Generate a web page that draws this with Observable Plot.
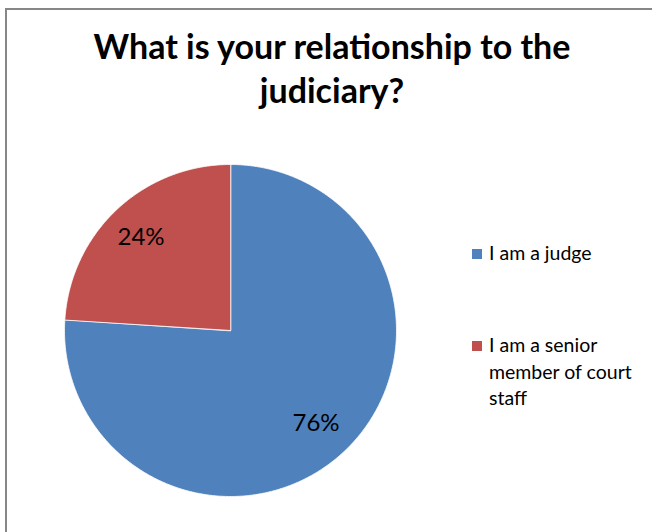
<!DOCTYPE html>
<html><head><meta charset="utf-8">
<script src="https://cdn.jsdelivr.net/npm/d3@7"></script>
<script src="https://cdn.jsdelivr.net/npm/@observablehq/plot@0.6"></script>
<style>
body{margin:0;background:#fff;font-family:Lato,"Open Sans",sans-serif}
#wrap{position:relative;width:652px;height:532px;overflow:hidden;background:#fff}
#frame{position:absolute;left:5px;top:8px;width:700px;height:600px;border:2px solid #878787;box-sizing:border-box}
#chart{position:absolute;left:0;top:0}
#title{position:absolute;left:0;width:664px;top:24px;text-align:center;font-weight:bold;font-size:34px;line-height:44px;color:#000;white-space:nowrap}
.leg{position:absolute;left:472px;font-size:19.5px;line-height:26.5px;color:#000}
.leg .sw{position:absolute;left:0;top:0;width:10px;height:10px}
.leg .tx{position:absolute;left:17px;top:0;white-space:nowrap}
</style>
</head><body>
<div id="wrap">
  <div id="frame"></div>
  <div id="chart"></div>
  <div id="title"></div>
  <div id="legend"></div>
</div>
<script>
const titleLines = ["What is your relationship to the", "judiciary?"];
const categories = ["I am a judge", "I am a senior member of court staff"];
const values = [76, 24];
const labels = ["76%", "24%"];
const colors = ["#4F81BD", "#C0504D"];
const legendLines = [["I am a judge"], ["I am a senior", "member of court", "staff"]];

// title
const t = document.getElementById("title");
titleLines.forEach(l => { const d = document.createElement("div"); d.textContent = l; t.appendChild(d); });

// pie geometry via d3.pie (angles from the data values)
const arcs = d3.pie().sort(null).value(d => d.value)(categories.map((c, i) => ({category: c, value: values[i], label: labels[i]})));
const outline = [];
for (const a of arcs) {
  outline.push({category: a.data.category, x: 0, y: 0});
  const steps = Math.max(2, Math.ceil((a.endAngle - a.startAngle) / (Math.PI / 180) * 2));
  for (let k = 0; k <= steps; k++) {
    const ang = a.startAngle + (a.endAngle - a.startAngle) * k / steps;
    outline.push({category: a.data.category, x: Math.sin(ang), y: Math.cos(ang)});
  }
}
const labelPts = arcs.map(a => {
  const m = (a.startAngle + a.endAngle) / 2;
  return {label: a.data.label, x: Math.sin(m) * 0.77, y: Math.cos(m) * 0.77};
});

const plot = Plot.plot({
  width: 652, height: 532,
  marginLeft: 64, marginRight: 256, marginTop: 164, marginBottom: 36,
  x: {domain: [-1, 1], axis: null},
  y: {domain: [-1, 1], axis: null},
  color: {domain: categories, range: colors},
  style: {background: "transparent", fontFamily: "Lato, sans-serif"},
  marks: [
    Plot.line(outline, {x: "x", y: "y", z: "category", fill: "category", stroke: "white", strokeWidth: 0.8, curve: "linear-closed"}),
    Plot.text(labelPts, {x: "x", y: "y", text: "label", fontSize: 24, fill: "black", dx: -2})
  ]
});
document.getElementById("chart").appendChild(plot);

// legend
const legTops = [248, 340];
const leg = document.getElementById("legend");
legendLines.forEach((lines, i) => {
  const item = document.createElement("div");
  item.className = "leg";
  item.style.top = legTops[i] + "px";
  const sw = document.createElement("div"); sw.className = "sw"; sw.style.background = colors[i]; sw.style.top = "1px";
  const tx = document.createElement("div"); tx.className = "tx"; tx.style.top = "-8px";
  tx.innerHTML = lines.map(s => s.replace(/&/g, "&amp;")).join("<br>");
  item.appendChild(sw); item.appendChild(tx);
  leg.appendChild(item);
});
</script>
</body></html>
